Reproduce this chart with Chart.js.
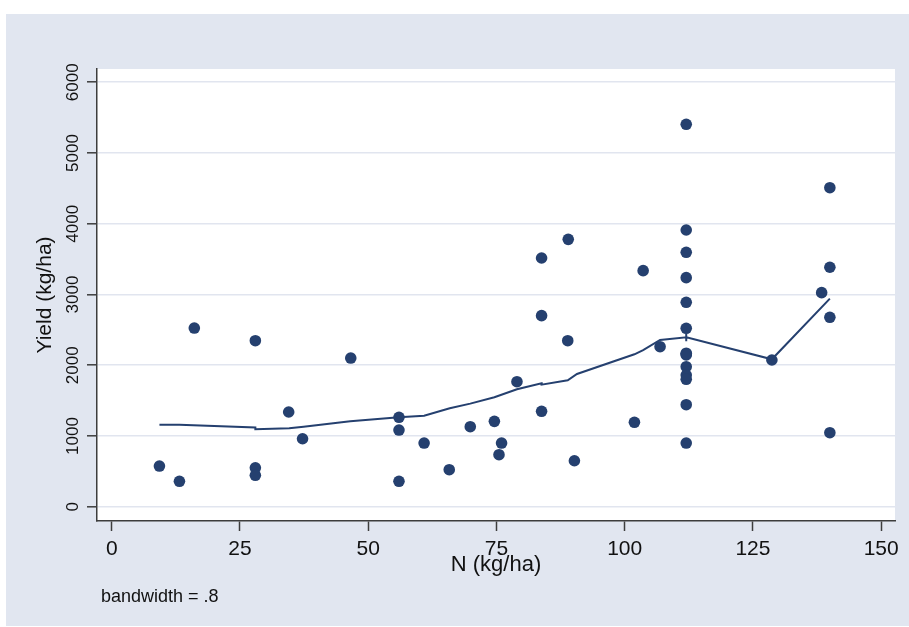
<!DOCTYPE html>
<html>
<head>
<meta charset="utf-8">
<script src="https://cdn.jsdelivr.net/npm/chart.js@4/dist/chart.umd.min.js"></script>
<style>
  html, body { margin: 0; padding: 0; background: #ffffff; }
  #wrap { width: 909px; height: 627px; }
</style>
</head>
<body>
<div id="wrap"><canvas id="c" width="909" height="627"></canvas></div>
<script>
// ---- data ----
const nKgHa = [9.3, 13.2, 16.1, 28, 28, 28, 34.5, 37.2, 46.6, 56, 56, 56, 60.9, 65.8, 69.9, 74.6, 75.5, 76,
  79, 83.8, 83.8, 83.8, 88.9, 89, 90.2, 101.9, 103.6, 106.9,
  112, 112, 112, 112, 112, 112, 112, 112, 112, 112, 112, 112, 112, 112,
  128.7, 138.4, 140, 140, 140, 140];
const yieldKgHa = [575, 359, 2526, 2347, 551, 444, 1339, 961, 2102, 1264, 1084, 359, 900, 523, 1131, 1207, 735, 900,
  1767, 3516, 2701, 1349, 2347, 3780, 650, 1193, 3337, 2262,
  5406, 3912, 3597, 3238, 2890, 2522, 2170, 2145, 1979, 1862, 1801, 1442, 900, 2159,
  2074, 3026, 4510, 3385, 2678, 1046];
const lowessX = [9.3, 13.2, 28, 28, 34.6, 37.4, 46.5, 56, 60.9, 65.9, 69.9, 74.6, 79.0, 83.8, 83.8, 88.9, 90.7,
  101.9, 103.6, 106.9, 112, 112, 112, 112, 128.7, 140];
const lowessY = [1160, 1160, 1120, 1094, 1108, 1131, 1207, 1264, 1285, 1391, 1457, 1547, 1660, 1745, 1725, 1787, 1876,
  2155, 2215, 2357, 2395, 2450, 2340, 2395, 2084, 2941];
const xTickValues = [0, 25, 50, 75, 100, 125, 150];
const yTickValues = [0, 1000, 2000, 3000, 4000, 5000, 6000];
const xTitle = 'N (kg/ha)';
const yTitle = 'Yield (kg/ha)';
const noteText = 'bandwidth = .8';

// ---- styles ----
const NAVY = '#25406F';
const BG = '#E1E6F0';
const GRID = '#E1E5EF';
const AXIS = '#3d3d3d';
const FONT = "'Liberation Sans', Arial, sans-serif";

const bgPlugin = {
  id: 'bg',
  beforeDraw(chart) {
    const ctx = chart.ctx, a = chart.chartArea;
    ctx.save();
    ctx.fillStyle = '#ffffff';
    ctx.fillRect(0, 0, chart.width, chart.height);
    ctx.fillStyle = BG;
    ctx.fillRect(6, 14, chart.width - 6, 612);
    ctx.fillStyle = '#ffffff';
    ctx.fillRect(a.left, a.top, a.right - a.left, a.bottom - a.top);
    ctx.restore();
  },
  afterDraw(chart) {
    const ctx = chart.ctx;
    ctx.save();
    ctx.fillStyle = '#111';
    ctx.font = '18px ' + FONT;
    ctx.textAlign = 'left';
    ctx.textBaseline = 'middle';
    ctx.fillText(noteText, 101, 597);
    ctx.restore();
  }
};

new Chart(document.getElementById('c'), {
  type: 'scatter',
  data: {
    datasets: [
      {
        label: 'Yield',
        data: nKgHa.map((x, i) => ({ x: x, y: yieldKgHa[i] })),
        backgroundColor: NAVY,
        borderColor: NAVY,
        borderWidth: 0,
        pointRadius: 5.8,
        pointHoverRadius: 5.8,
        order: 2
      },
      {
        label: 'lowess',
        type: 'line',
        data: lowessX.map((x, i) => ({ x: x, y: lowessY[i] })),
        borderColor: NAVY,
        borderWidth: 2,
        pointRadius: 0,
        fill: false,
        tension: 0,
        order: 1
      }
    ]
  },
  options: {
    responsive: false,
    animation: false,
    devicePixelRatio: 1,
    layout: { padding: { left: 6, top: 69, right: 14, bottom: 0 } },
    plugins: { legend: { display: false }, tooltip: { enabled: false }, title: { display: false } },
    scales: {
      x: {
        type: 'linear',
        position: 'bottom',
        min: -2.87,
        max: 152.7,
        afterBuildTicks(s) { s.ticks = xTickValues.map(v => ({ value: v })); },
        afterFit(s) { s.height = 106; },
        grid: { drawOnChartArea: false, drawTicks: true, tickLength: 10, tickColor: AXIS, tickWidth: 1.5 },
        border: { display: true, color: AXIS, width: 1.5 },
        ticks: { color: '#111', font: { family: FONT, size: 21 }, padding: 6, maxRotation: 0, minRotation: 0,
                 callback: v => String(v) },
        title: { display: true, text: xTitle, color: '#111', font: { family: FONT, size: 22 }, padding: { top: 0, bottom: 49 } }
      },
      y: {
        type: 'linear',
        position: 'left',
        min: -202,
        max: 6188,
        afterBuildTicks(s) { s.ticks = yTickValues.map(v => ({ value: v })); },
        afterFit(s) { s.width = 91; },
        grid: { color: GRID, lineWidth: 1.6, drawTicks: true, tickLength: 10, tickColor: AXIS, tickWidth: 1.5 },
        border: { display: true, color: AXIS, width: 1.5 },
        ticks: { color: '#111', font: { family: FONT, size: 17 }, minRotation: 90, maxRotation: 90, crossAlign: 'center', padding: -5,
                 callback: v => String(v) },
        title: { display: true, text: yTitle, color: '#111', font: { family: FONT, size: 21 }, padding: { top: 26.4, bottom: 0 } }
      }
    }
  },
  plugins: [bgPlugin]
});
</script>
</body>
</html>
